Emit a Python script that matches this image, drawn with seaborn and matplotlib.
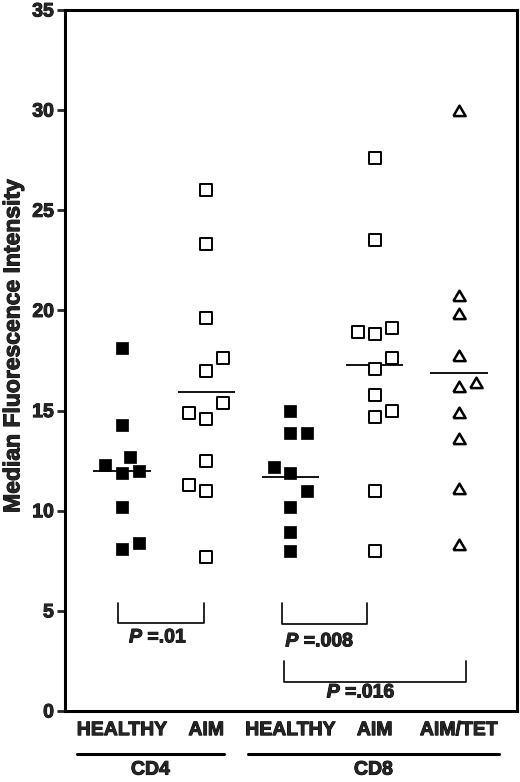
import numpy as np
import pandas as pd
import matplotlib
matplotlib.use("Agg")
import matplotlib.pyplot as plt
import matplotlib.patheffects as pe
import seaborn as sns

sns.set_theme(style="ticks")
plt.rcParams["font.family"] = ["Liberation Sans", "DejaVu Sans"]
plt.rcParams["font.weight"] = "bold"
plt.rcParams["mathtext.fontset"] = "custom"
plt.rcParams["mathtext.it"] = "Liberation Sans:italic:bold"
plt.rcParams["mathtext.rm"] = "Liberation Sans:bold"

# data
groups = ["CD4 HEALTHY", "CD4 AIM", "CD8 HEALTHY", "CD8 AIM", "CD8 AIM/TET"]
tick_labels = ["HEALTHY", "AIM", "HEALTHY", "AIM", "AIM/TET"]

cd4_healthy = [18.1, 14.3, 12.7, 12.3, 11.9, 12.0, 10.2, 8.4, 8.1]
cd4_aim = [26.0, 23.3, 19.6, 17.6, 17.0, 15.4, 14.9, 14.6, 12.5, 11.3, 11.0, 7.7]
cd8_healthy = [15.0, 13.9, 13.9, 12.2, 11.9, 11.0, 10.2, 8.95, 8.0]
cd8_aim = [27.6, 23.5, 19.1, 18.9, 18.8, 17.6, 17.1, 15.8, 15.0, 14.7, 11.0, 8.0]
cd8_aim_tet = [29.95, 20.7, 19.8, 17.7, 16.4, 16.2, 14.9, 13.6, 11.1, 8.3]

# side slots for points that would overlap
cd4_healthy_slot = [0, 0, 0.5, -1, 0, 1, 0, 1, 0]
cd4_aim_slot = [0, 0, 0, 1, 0, 1, -1, 0, 0, -1, 0, 0]
cd8_healthy_slot = [0, 0, 1, -1, 0, 1, 0, 0, 0]
cd8_aim_slot = [0, 0, 1, -1, 0, 1, 0, 0, 1, 0, 0, 0]
cd8_aim_tet_slot = [0, 0, 0, 0, 1, 0, 0, 0, 0, 0]

p_values = [".01", ".008", ".016"]
cell_types = ["CD4", "CD8"]

values = [cd4_healthy, cd4_aim, cd8_healthy, cd8_aim, cd8_aim_tet]
slots = [cd4_healthy_slot, cd4_aim_slot, cd8_healthy_slot, cd8_aim_slot, cd8_aim_tet_slot]

rows = []
for i, (g, vals, sl) in enumerate(zip(groups, values, slots)):
    for v, s in zip(vals, sl):
        rows.append({"group": g, "idx": i, "value": v, "x": i + 0.2 * s})
df = pd.DataFrame(rows)

heavy = [pe.withStroke(linewidth=0.7, foreground="black")]
FS = 14

fig = plt.figure(figsize=(5.2, 7.82), dpi=100)
ax = fig.add_axes([65 / 520, 71 / 782, 452 / 520, 701 / 782])

# mean lines
means = df.groupby("idx")["value"].mean()
ax.hlines(means.values, means.index - 0.34, means.index + 0.34,
          color="black", lw=1.3, zorder=2)

tri = [(-1, -0.75), (1, -0.75), (0, 0.95), (-1, -0.75)]
healthy = df[df["group"].str.contains("HEALTHY")]
aim = df[df["group"].isin(["CD4 AIM", "CD8 AIM"])]
tet = df[df["group"] == "CD8 AIM/TET"]

sns.scatterplot(data=healthy, x="x", y="value", marker="s", color="black",
                edgecolor="black", s=80, linewidth=0.5, ax=ax, zorder=3)
sns.scatterplot(data=aim, x="x", y="value", marker="s", color="white",
                edgecolor="black", s=70, linewidth=1.4, ax=ax, zorder=3)
sns.scatterplot(data=tet, x="x", y="value", marker=tri, color="white",
                edgecolor="black", s=78, linewidth=1.8, ax=ax, zorder=3)

# significance brackets
def bracket(x0, x1, top, bottom, label, lx, ly):
    ax.plot([x0, x0, x1, x1], [top, bottom, bottom, top], color="black", lw=1.2)
    ax.text(lx, ly, r"$P$ =" + label, ha="center", va="center",
            fontsize=FS, fontweight="bold", path_effects=heavy)

bracket(-0.05, 0.97, 5.4, 4.4, p_values[0], 0.43, 3.65)
bracket(1.9, 2.91, 5.4, 4.35, p_values[1], 2.35, 3.45)
bracket(1.92, 4.09, 2.5, 1.45, p_values[2], 2.84, 0.9)

ax.set_xlim(-0.677, 4.69)
ax.set_ylim(0, 35)
ax.set_yticks(np.arange(0, 36, 5))
ax.set_xticks(range(len(groups)))
ax.set_xticklabels(tick_labels)
ax.tick_params(axis="x", length=0, pad=8, labelsize=FS)
ax.tick_params(axis="y", length=6, width=2, pad=2, labelsize=FS)
for lab in ax.get_xticklabels() + ax.get_yticklabels():
    lab.set_fontweight("bold")
    lab.set_path_effects(heavy)
for sp in ax.spines.values():
    sp.set_linewidth(2.2)
    sp.set_color("black")
ax.set_xlabel("")
ax.set_ylabel("Median Fluorescence Intensity", fontsize=16.5, fontweight="bold",
              path_effects=heavy)
ax.yaxis.set_label_coords(-0.09, 0.52)

# cell type group underlines
for (x0, x1), name in zip([(-0.536, 1.21), (1.49, 4.48)], cell_types):
    ax.plot([x0, x1], [-2.15, -2.15], color="black", lw=2.2, clip_on=False)
    ax.text((x0 + x1) / 2, -2.95, name, ha="center", va="center",
            fontsize=FS, fontweight="bold", clip_on=False, path_effects=heavy)

fig.savefig("out.png", dpi=100)
